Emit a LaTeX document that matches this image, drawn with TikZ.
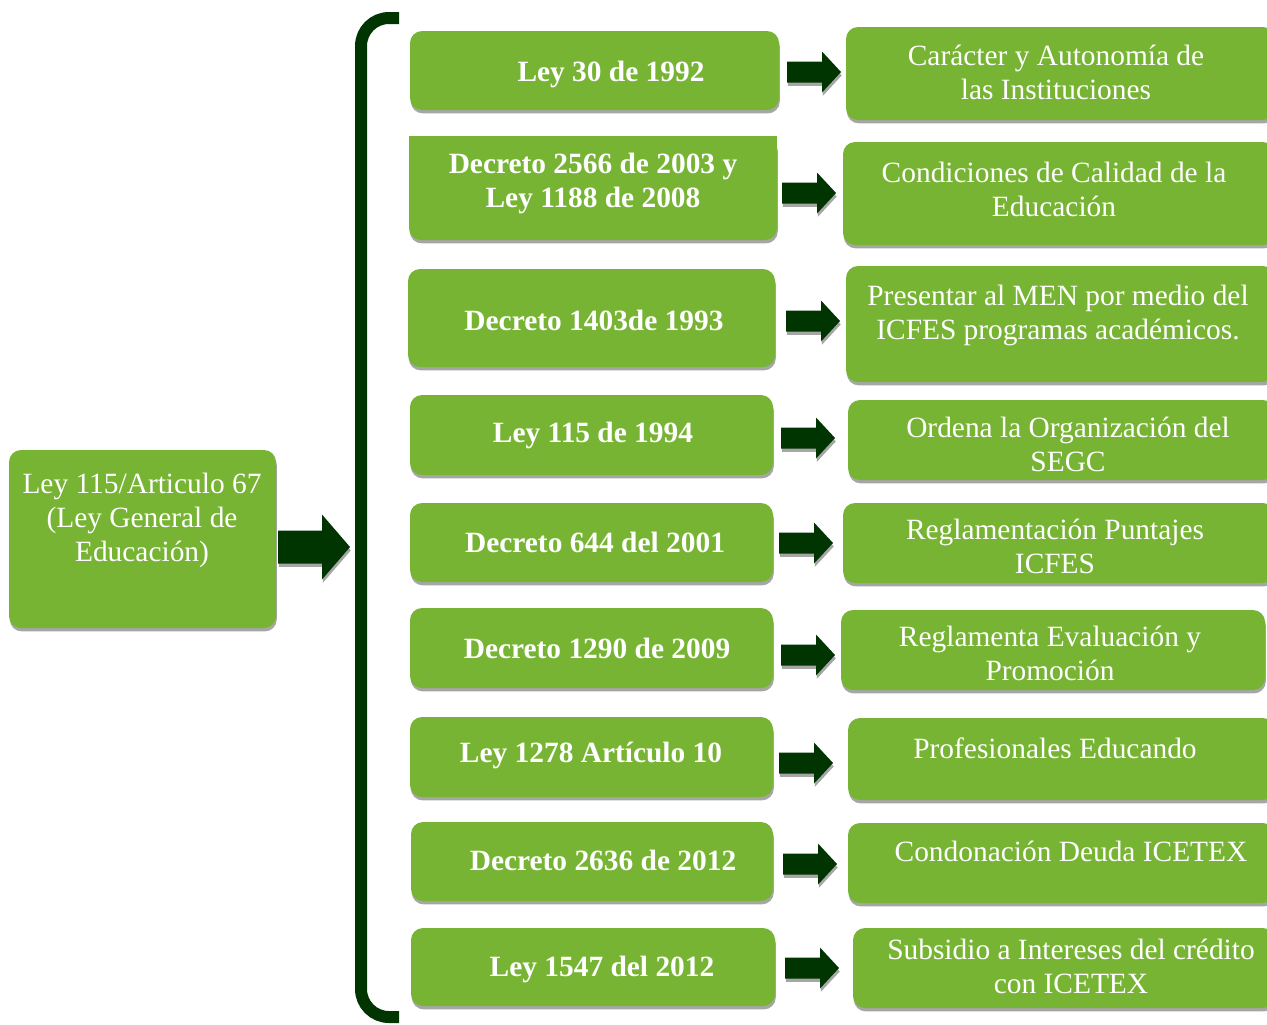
\documentclass[tikz,border=0pt]{standalone}
\usepackage{fontspec}
\setmainfont{Liberation Serif}
\usetikzlibrary{fit,shadows,calc}
\definecolor{boxgreen}{RGB}{119,180,52}
\definecolor{darkgreen}{RGB}{0,52,0}
\tikzset{
  shad/.style={drop shadow={shadow xshift=0.4pt, shadow yshift=-1.7pt, fill=gray!70, opacity=1}},
  box/.style={fill=boxgreen, rounded corners=6pt, inner sep=0pt, draw=none, shad},
  ltext/.style={text=white, align=center, inner sep=0pt, font=\fontsize{14.7}{17}\selectfont\bfseries},
  rtext/.style={text=white, align=center, inner sep=0pt, font=\fontsize{14.7}{17}\selectfont},
  smallarrow/.pic={\fill[darkgreen, shad] (-54,-10.5) -- (-19,-10.5) -- (-19,-20.5) -- (0,0) -- (-19,20.5) -- (-19,10.5) -- (-54,10.5) -- cycle;},
  bigarrow/.pic={\fill[darkgreen, shad] (-72,-16.5) -- (-28,-16.5) -- (-28,-32.5) -- (0,0) -- (-28,32.5) -- (-28,16.5) -- (-72,16.5) -- cycle;},
  bracket/.style={draw=darkgreen, line width=6pt, rounded corners=14pt}
}
\begin{document}
\begin{tikzpicture}[x=0.5pt,y=-0.5pt]
\clip (0,0) rectangle (1267,1024);
% main box
\node[box, fit={(9,450) (276,628)}] (main) {};
\node[rtext] (maint) at (142,520) {Ley 115/Articulo 67\\(Ley General de\\Educación)};
\pic at (350,547) {bigarrow};
% bracket
\coordinate (bt) at (399,18);
\coordinate (bb) at (399,1017);
\draw[bracket] (bt) -- (361,18) -- (361,1017) -- (bb);
% left column
\node[box, fit={(410,31) (779,110)}] (l1) {};
\node[box, fit={(409,136) (777,240)}] (l2) {};
\fill[boxgreen] (l2.north west) rectangle ($(l2.north east)+(0,30)$);
\node[box, fit={(408,269) (775,367)}] (l3) {};
\node[box, fit={(410,395) (773,475)}] (l4) {};
\node[box, fit={(410,503) (773,582)}] (l5) {};
\node[box, fit={(410,608) (773,688)}] (l6) {};
\node[box, fit={(410,717) (773,797)}] (l7) {};
\node[box, fit={(411,822) (773,901)}] (l8) {};
\node[box, fit={(411,928) (775,1006)}] (l9) {};
\node[ltext] (l1t) at (611,74.5) {Ley 30 de 1992};
\node[ltext] (l2t) at (593,183.5) {Decreto 2566 de 2003 y\\Ley 1188 de 2008};
\node[ltext] (l3t) at (594,320.5) {Decreto 1403de 1993};
\node[ltext] (l4t) at (593,435.5) {Ley 115 de 1994};
\node[ltext] (l5t) at (595,542) {Decreto 644 del 2001};
\node[ltext] (l6t) at (597,648) {Decreto 1290 de 2009};
\node[ltext] (l7t) at (591,755.5) {Ley 1278 Artículo 10};
\node[ltext] (l8t) at (603,860) {Decreto 2636 de 2012};
\node[ltext] (l9t) at (602,969.5) {Ley 1547 del 2012};
% arrows
\pic at (841,72) {smallarrow};
\pic at (836,193) {smallarrow};
\pic at (840,321) {smallarrow};
\pic at (835,438) {smallarrow};
\pic at (833,543) {smallarrow};
\pic at (835,655) {smallarrow};
\pic at (833,763) {smallarrow};
\pic at (837,864) {smallarrow};
\pic at (839,968) {smallarrow};
% right column
\node[box, fit={(846,27) (1275,120)}] (r1) {};
\node[box, fit={(843,142) (1275,245)}] (r2) {};
\node[box, fit={(846,266) (1275,382)}] (r3) {};
\node[box, fit={(848,400) (1275,480)}] (r4) {};
\node[box, fit={(843,503) (1275,583)}] (r5) {};
\node[box, fit={(841,610) (1265,690)}] (r6) {};
\node[box, fit={(848,718) (1275,800)}] (r7) {};
\node[box, fit={(848,823) (1275,903)}] (r8) {};
\node[box, fit={(853,928) (1275,1008)}] (r9) {};
\node[rtext] (r1t) at (1056,72.5) {Carácter y Autonomía de\\las Instituciones};
\node[rtext] (r2t) at (1054,189.5) {Condiciones de Calidad de la\\Educación};
\node[rtext] (r3t) at (1058,315.5) {Presentar al MEN por medio del\\ICFES programas académicos.};
\node[rtext] (r4t) at (1068,444.5) {Ordena la Organización del\\SEGC};
\node[rtext] (r5t) at (1055,546.5) {Reglamentación Puntajes\\ICFES};
\node[rtext] (r6t) at (1050,653) {Reglamenta Evaluación y\\Promoción};
\node[rtext] (r7t) at (1055,748) {Profesionales Educando};
\node[rtext] (r8t) at (1071,851) {Condonación Deuda ICETEX};
\node[rtext] (r9t) at (1071,966) {Subsidio a Intereses del crédito\\con ICETEX};
\end{tikzpicture}
\end{document}
